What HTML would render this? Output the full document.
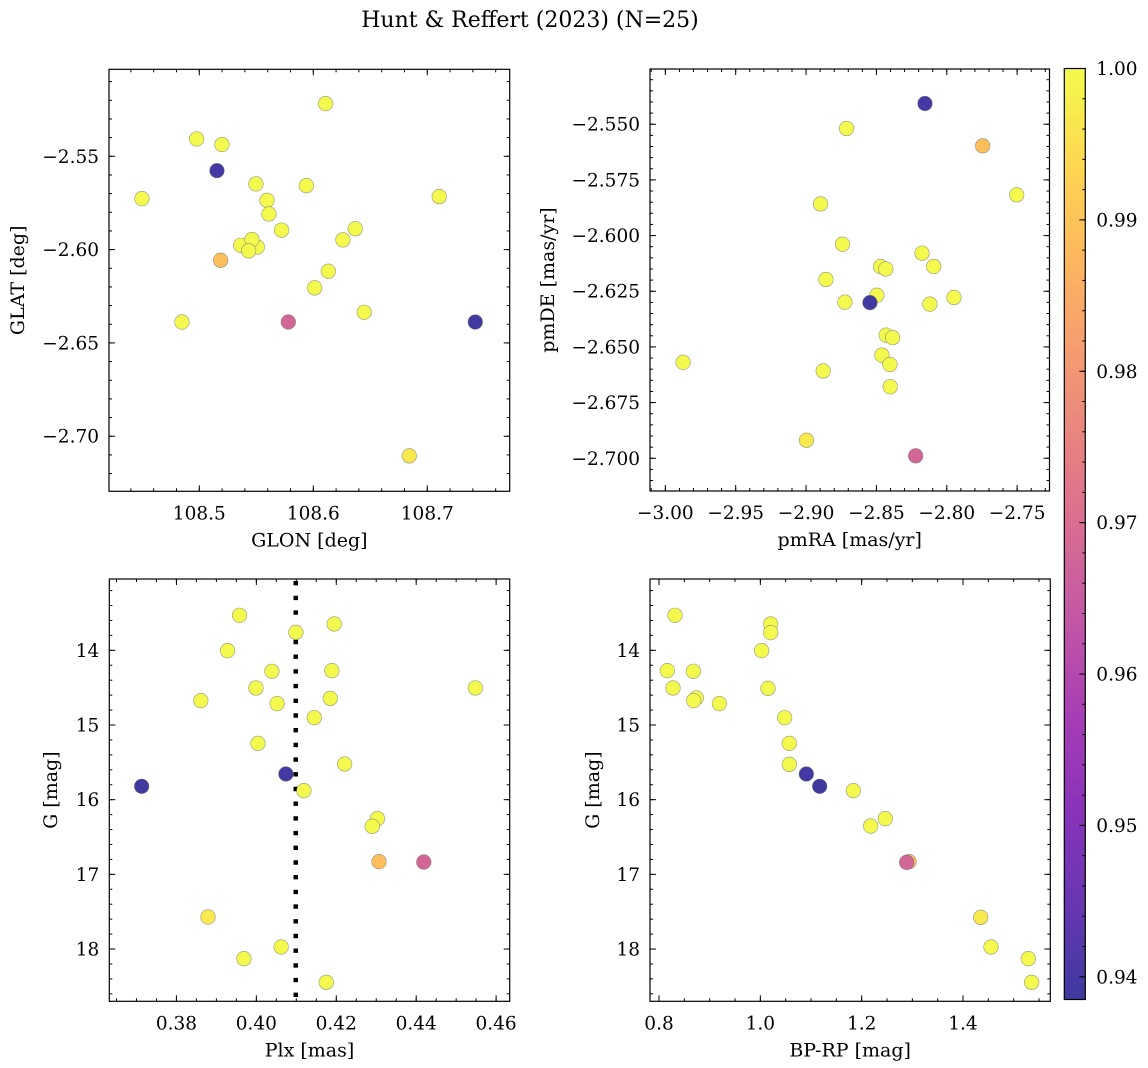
<!DOCTYPE html>
<html><head><meta charset="utf-8">
<style>
body{margin:0;background:#fff;}
svg{display:block;font-family:"DejaVu Serif","Liberation Serif",serif;}
</style></head>
<body>
<svg id="fig" width="1148" height="1068" viewBox="0 0 1148 1068" xmlns="http://www.w3.org/2000/svg">
<text x="530" y="27" text-anchor="middle" font-size="22">Hunt &amp; Reffert (2023) (N=25)</text>
</svg>
<script>
// membership probability per star (shared ordering across panels)
const prob = [0.9395,0.9388,0.989,0.968, 1,1,1,1,1,1,1,1,1,1,1,1,1,1,1,1,1,1,1,1,0.997];
// Panel A: GLON / GLAT
const glon = [108.5155,108.7421,108.5187,108.5781, 108.6108,108.4977,108.5199,108.4497,108.5497,108.5939,108.7105,108.5594,108.5611,108.5722,108.6368,108.6260,108.5363,108.5509,108.5462,108.5433,108.6132,108.6012,108.6447,108.4848,108.6842];
const glat = [-2.5577,-2.6388,-2.6057,-2.6388, -2.5218,-2.5407,-2.5437,-2.5727,-2.5648,-2.5657,-2.5716,-2.5736,-2.5809,-2.5896,-2.5888,-2.5948,-2.5977,-2.5986,-2.5946,-2.6007,-2.6116,-2.6205,-2.6336,-2.6388,-2.7105];
// Panel B: pmRA / pmDE
const pmra = [-2.8155,-2.8546,-2.7745,-2.8221, -2.8712,-2.7503,-2.8897,-2.8741,-2.8176,-2.8470,-2.8433,-2.8093,-2.8859,-2.8497,-2.8724,-2.7949,-2.8120,-2.8430,-2.8385,-2.9874,-2.8461,-2.8404,-2.8878,-2.8402,-2.8997];
const pmde = [-2.5407,-2.6301,-2.5597,-2.6989, -2.5519,-2.5817,-2.5858,-2.6039,-2.6079,-2.6139,-2.6150,-2.6139,-2.6197,-2.6268,-2.6299,-2.6278,-2.6308,-2.6447,-2.6458,-2.6569,-2.6537,-2.6579,-2.6608,-2.6679,-2.6919];
// Panel C: Plx / G
const plx = [0.4074,0.3713,0.4307,0.4419, 0.3958,0.4195,0.4099,0.3928,0.4039,0.4189,0.3999,0.4548,0.3861,0.4185,0.4052,0.4145,0.4004,0.4221,0.4119,0.4303,0.4290,0.4062,0.3969,0.4175,0.3879];
const gmagC = [15.656,15.821,16.830,16.835, 13.531,13.647,13.759,14.004,14.281,14.272,14.504,14.504,14.674,14.643,14.714,14.902,15.246,15.522,15.879,16.254,16.357,17.973,18.129,18.446,17.571];
const plxRef = [0.40986];
// Panel D: BP-RP / G
const bprp = [1.0908,1.1171,1.2934,1.2888, 0.8316,1.0204,1.0204,1.0026,0.8164,0.8678,0.8276,1.0151,0.8737,0.8684,0.9191,1.0480,1.0572,1.0572,1.1836,1.2467,1.2178,1.4553,1.5289,1.5355,1.4349];
const gmagD = [15.656,15.821,16.830,16.839, 13.531,13.647,13.763,14.004,14.272,14.281,14.504,14.509,14.638,14.674,14.714,14.902,15.246,15.527,15.879,16.254,16.353,17.973,18.129,18.446,17.576];
// tick labels
const ticksGlon = [108.5,108.6,108.7];
const ticksGlat = [-2.55,-2.60,-2.65,-2.70];
const ticksPmra = [-3.00,-2.95,-2.90,-2.85,-2.80,-2.75];
const ticksPmde = [-2.550,-2.575,-2.600,-2.625,-2.650,-2.675,-2.700];
const ticksPlx = [0.38,0.40,0.42,0.44,0.46];
const ticksG = [14,15,16,17,18];
const ticksBprp = [0.8,1.0,1.2,1.4];
const ticksCbar = [0.94,0.95,0.96,0.97,0.98,0.99,1.00];

const NS='http://www.w3.org/2000/svg';
const svg=document.getElementById('fig');
function mk(tag,attrs,parent){const e=document.createElementNS(NS,tag);for(const k in attrs)e.setAttribute(k,attrs[k]);(parent||svg).appendChild(e);return e;}
const plasma=[[13,8,135],[65,4,157],[106,0,168],[143,13,164],[177,42,144],[204,71,120],[225,100,98],[242,132,75],[252,166,54],[252,206,37],[240,249,33]];
const vmin=0.9385,vmax=1.0;
function cmap(v){let t=(v-vmin)/(vmax-vmin);t=Math.max(0,Math.min(1,t));const f=t*10,i=Math.min(9,Math.floor(f)),r=f-i;
 const c=plasma[i].map((a,k)=>a+(plasma[i+1][k]-a)*r).map(a=>Math.round(a*0.8+255*0.2));return 'rgb('+c.join(',')+')';}
function fmt(v,d){return (v<0?'\u2212':'')+Math.abs(v).toFixed(d);}
const TFS=18.5, LFS=19;

function panel(o){
 const g=mk('g',{});
 
 
 const sx=v=>o.x0+(v-o.xl[0])/(o.xl[1]-o.xl[0])*(o.x1-o.x0);
 const sy=v=>o.inv? o.y0+(v-o.yl[0])/(o.yl[1]-o.yl[0])*(o.y1-o.y0) : o.y1-(v-o.yl[0])/(o.yl[1]-o.yl[0])*(o.y1-o.y0);
 const tg=mk('g',{stroke:'#000','stroke-width':1},g);
 function xt(v,len){const x=sx(v);if(x<o.x0-0.5||x>o.x1+0.5)return;mk('line',{x1:x,x2:x,y1:o.y1,y2:o.y1-len},tg);mk('line',{x1:x,x2:x,y1:o.y0,y2:o.y0+len},tg);}
 function yt(v,len){const y=sy(v);if(y<o.y0-0.5||y>o.y1+0.5)return;mk('line',{x1:o.x0,x2:o.x0+len,y1:y,y2:y},tg);mk('line',{x1:o.x1,x2:o.x1-len,y1:y,y2:y},tg);}
 for(let k=Math.ceil(o.xl[0]/o.xmin-1e-6);k*o.xmin<=o.xl[1];k++)xt(k*o.xmin,3);
 for(let k=Math.ceil(Math.min(o.yl[0],o.yl[1])/o.ymin-1e-6);k*o.ymin<=Math.max(o.yl[0],o.yl[1]);k++)yt(k*o.ymin,3);
 o.xticks.forEach(v=>{xt(v,6);const t=mk('text',{x:sx(v),y:o.y1+28,'text-anchor':'middle','font-size':TFS},g);t.textContent=fmt(v,o.xd);
  
  });
 o.yticks.forEach(v=>{yt(v,6);const t=mk('text',{x:o.x0-10,y:sy(v)+6.5,'text-anchor':'end','font-size':TFS},g);t.textContent=fmt(v,o.yd);
  
  });
 if(o.vline){o.vline.forEach(v=>{const l=mk('line',{x1:sx(v),x2:sx(v),y1:o.y0+2,y2:o.y1,stroke:'#000','stroke-width':4.5,'stroke-dasharray':'4.4,10.3'},g);
  
  });}
 const idx=o.xs.map((_,i)=>i).sort((a,b)=>prob[b]-prob[a]);
 idx.forEach(i=>{const c=mk('circle',{cx:sx(o.xs[i]),cy:sy(o.ys[i]),r:7.3,fill:cmap(prob[i]),stroke:'rgba(110,110,110,0.7)','stroke-width':0.6},g);
  
  });
 const fr=mk('rect',{x:o.x0,y:o.y0,width:o.x1-o.x0,height:o.y1-o.y0,fill:'none',stroke:'#000','stroke-width':1.2},g);
 
 
 const xl=mk('text',{x:(o.x0+o.x1)/2,y:o.y1+55,'text-anchor':'middle','font-size':LFS},g);xl.textContent=o.xlab;
 
 
 const yx=o.ylx,yy=(o.y0+o.y1)/2;
 const yl=mk('text',{x:yx,y:yy,'text-anchor':'middle','font-size':LFS,transform:'rotate(-90 '+yx+' '+yy+')'},g);yl.textContent=o.ylab;
 
 
}

panel({name:'glon-glat-panel',x0:109,x1:509.7,y0:69.3,y1:491.3,xl:[108.4208,108.7723],yl:[-2.7295,-2.5034],xs:glon,ys:glat,
 xticks:ticksGlon,yticks:ticksGlat,xd:1,yd:2,xmin:0.02,ymin:0.01,xlab:'GLON [deg]',ylab:'GLAT [deg]',ylx:24});
panel({name:'pm-panel',x0:650,x1:1049.5,y0:69,y1:491,xl:[-3.0109,-2.7270],yl:[-2.7147,-2.5252],xs:pmra,ys:pmde,
 xticks:ticksPmra,yticks:ticksPmde,xd:2,yd:3,xmin:0.01,ymin:0.005,xlab:'pmRA [mas/yr]',ylab:'pmDE [mas/yr]',ylx:554});
panel({name:'plx-g-panel',x0:109.3,x1:509.7,y0:579,y1:1001.3,xl:[0.3632,0.4634],yl:[13.045,18.70],inv:true,xs:plx,ys:gmagC,vline:plxRef,
 xticks:ticksPlx,yticks:ticksG,xd:2,yd:0,xmin:0.005,ymin:0.2,xlab:'Plx [mas]',ylab:'G [mag]',ylx:57});
panel({name:'cmd-panel',x0:650,x1:1050.3,y0:579,y1:1001.3,xl:[0.7822,1.5723],yl:[13.045,18.70],inv:true,xs:bprp,ys:gmagD,
 xticks:ticksBprp,yticks:ticksG,xd:1,yd:0,xmin:0.05,ymin:0.2,xlab:'BP-RP [mag]',ylab:'G [mag]',ylx:599});

(function(){
 const x0=1064.3,x1=1085.3,y0=68.5,y1=999.5;
 const g=mk('g',{});
 
 
 const defs=mk('defs',{},g);
 const lg=mk('linearGradient',{id:'cb',x1:0,y1:1,x2:0,y2:0},defs);
 for(let k=0;k<=20;k++){mk('stop',{offset:k/20,'stop-color':cmap(vmin+(vmax-vmin)*k/20)},lg);}
 mk('rect',{x:x0,y:y0,width:x1-x0,height:y1-y0,fill:'url(#cb)'},g);
 const sy=v=>y1-(v-vmin)/(vmax-vmin)*(y1-y0);
 for(let k=Math.ceil(vmin/0.002);k*0.002<=vmax+1e-9;k++){const y=sy(k*0.002);mk('line',{x1:x1,x2:x1-3,y1:y,y2:y,stroke:'#000'},g);}
 ticksCbar.forEach(v=>{const y=sy(v);mk('line',{x1:x1,x2:x1-6,y1:y,y2:y,stroke:'#000'},g);
  const t=mk('text',{x:x1+11,y:y+6.5,'font-size':TFS},g);t.textContent=v.toFixed(2);
  
  });
 mk('rect',{x:x0,y:y0,width:x1-x0,height:y1-y0,fill:'none',stroke:'#000','stroke-width':1.2},g);
})();
</script>
</body></html>
